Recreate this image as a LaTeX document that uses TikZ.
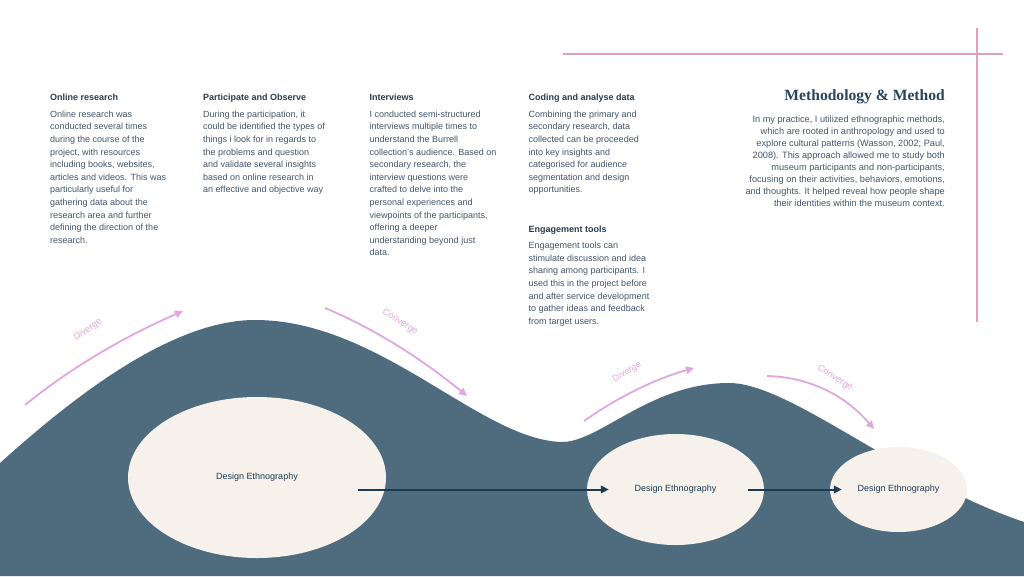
\documentclass[tikz,border=0pt]{standalone}
\usepackage{fontspec}
\setmainfont{Liberation Sans}
\newfontfamily\titlefont{Liberation Serif}
\usetikzlibrary{positioning,shapes.geometric,arrows.meta}
\definecolor{wave}{HTML}{4F6B7E}
\definecolor{cream}{HTML}{F6F1EB}
\definecolor{navy}{HTML}{1E3A52}
\definecolor{orchid}{HTML}{E2A6DE}
\definecolor{rulepink}{HTML}{DDA2BC}
\definecolor{headcol}{HTML}{2A3D4E}
\definecolor{bodycol}{HTML}{43566A}
\definecolor{titlecol}{HTML}{27455A}

\begin{document}
\begin{tikzpicture}
[
    x=1pt, y=-1pt,
    heading/.style={anchor=base west, inner sep=0pt, text=headcol, text height=6.6pt, text depth=2pt,
        font=\fontsize{9}{12.6}\selectfont\bfseries},
    body/.style={below=7.7pt of #1.south west, anchor=north west, inner sep=0pt, align=left,
        text=bodycol, font=\fontsize{9}{12.6}\selectfont},
    stage/.style={ellipse, fill=cream, inner sep=0pt, text=navy, font=\fontsize{9}{11}\selectfont},
    flow/.style={draw=navy, line width=2pt, -{Triangle[length=8pt,width=7.5pt]}},
    swing/.style={draw=orchid, line width=1.8pt, -{Triangle[length=8pt,width=7.5pt]}},
    phase/.style={inner sep=0pt, text=orchid, font=\fontsize{9.2}{10}\selectfont},
]
\fill[white] (0,0) rectangle (1024,576);
\useasboundingbox (0,0) rectangle (1024,576);

\draw[rulepink, line width=1.3pt] (563,54) -- (1003,54);
\draw[rulepink, line width=1.3pt] (977,28) -- (977,322);

\node [heading] (hd1) at (50,100.7) {Online research};
\node [body=hd1] (bd1) {Online research was\\conducted several times\\during the course of the\\project, with resources\\including books, websites,\\articles and videos. This was\\particularly useful for\\gathering data about the\\research area and further\\defining the direction of the\\research.};
\node [heading] (hd2) at (203,100.7) {Participate and Observe};
\node [body=hd2] (bd2) {During the participation, it\\could be identified the types of\\things i look for in regards to\\the problems and question\\and validate several insights\\based on online research in\\an effective and objective way};
\node [heading] (hd3) at (369.5,100.7) {Interviews};
\node [body=hd3] (bd3) {I conducted semi-structured\\interviews multiple times to\\understand the Burrell\\collection’s audience. Based on\\secondary research, the\\interview questions were\\crafted to delve into the\\personal experiences and\\viewpoints of the participants,\\offering a deeper\\understanding beyond just\\data.};
\node [heading] (hd4) at (528.5,100.7) {Coding and analyse data};
\node [body=hd4] (bd4) {Combining the primary and\\secondary research, data\\collected can be proceeded\\into key insights and\\categorised for audience\\segmentation and design\\opportunities.};
\node [heading] (hd5) at (528.5,232) {Engagement tools};
\node [body=hd5] (bd5) {Engagement tools can\\stimulate discussion and idea\\sharing among participants. I\\used this in the project before\\and after service development\\to gather ideas and feedback\\from target users.};

\node [anchor=base east, inner sep=0pt, text=titlecol, font=\titlefont\bfseries\fontsize{15.6}{18}\selectfont]
    (title) at (945,100) {Methodology \& Method};
\node [below=12pt of title.south east, anchor=north east, inner sep=0pt, align=right, text=bodycol,
    font=\fontsize{9.2}{12}\selectfont] (intro)
    {In my practice, I utilized ethnographic methods,\\which are rooted in anthropology and used to\\explore cultural patterns (Wasson, 2002; Paul,\\2008). This approach allowed me to study both\\museum participants and non-participants,\\focusing on their activities, behaviors, emotions,\\and thoughts. It helped reveal how people shape\\their identities within the museum context.};

\fill[wave] (0,463) .. controls (70,400) and (170,320) .. (255,320)
    .. controls (380,320) and (480,440) .. (562,442)
    .. controls (600,442) and (650,383) .. (729,383)
    .. controls (790,383) and (900,480) .. (1024,522)
    -- (1024,576) -- (0,576) -- cycle;

\node [stage, minimum width=258pt, minimum height=161pt] (e1) at (257,477.5) {Design Ethnography};
\node [stage, minimum width=177pt, minimum height=111pt] (e2) at (675.5,489.5) {Design Ethnography};
\node [stage, minimum width=137pt, minimum height=85pt] (e3) at (898.5,489.5) {Design Ethnography};

\draw [flow] ([shift={(-28pt,-12pt)}]e1.east) -- ([xshift=22pt]e2.west);
\draw [flow] ([xshift=-16pt]e2.east) -- ([xshift=12pt]e3.west);

\coordinate (d1s) at (25,405);
\coordinate (d1e) at (183,311);
\coordinate (c1s) at (325,308);
\coordinate (c1e) at (467,396);
\coordinate (d2s) at (584,421);
\coordinate (d2e) at (694,368);
\coordinate (c2s) at (767,376);
\coordinate (c2e) at (874,429);
\draw [swing] (d1s) .. controls (68,370) and (121,338) .. (d1e);
\draw [swing] (c1s) .. controls (375,329) and (422,359) .. (c1e);
\draw [swing] (d2s) .. controls (618,397) and (655,379) .. (d2e);
\draw [swing] (c2s) .. controls (809,377) and (845,395) .. (c2e);
\node [phase, rotate=34] (d1l) at (88,330) {Diverge};
\node [phase, rotate=-32] (c1l) at (400,322) {Converge};
\node [phase, rotate=31] (d2l) at (627,372) {Diverge};
\node [phase, rotate=-32] (c2l) at (835,378) {Converge};
\end{tikzpicture}
\end{document}
